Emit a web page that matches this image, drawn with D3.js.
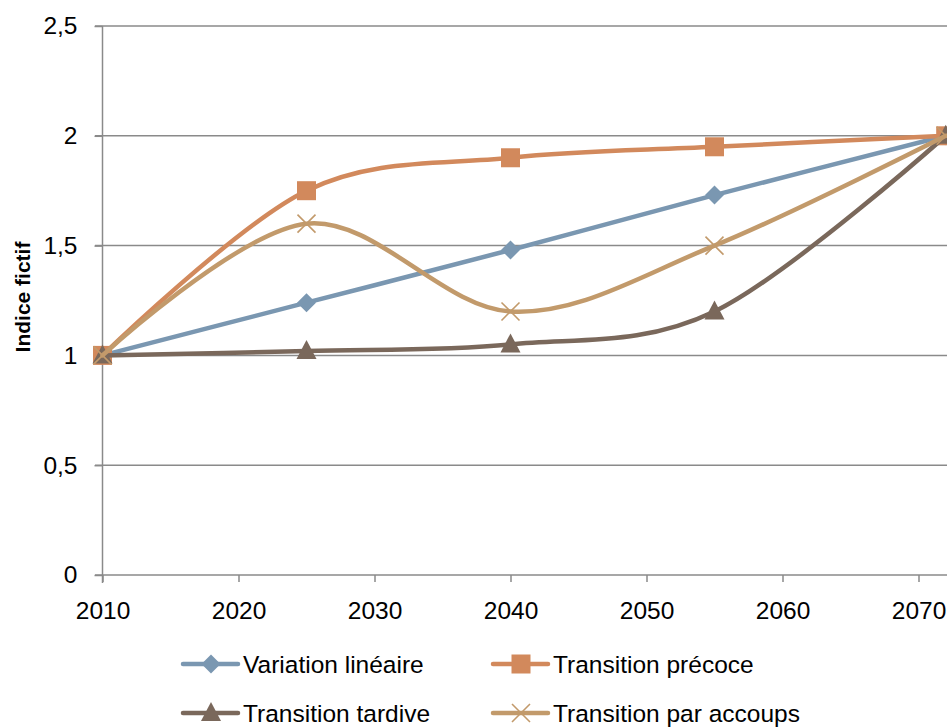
<!DOCTYPE html>
<html>
<head>
<meta charset="utf-8">
<script src="https://cdn.jsdelivr.net/npm/d3@7"></script>
<style>
  html, body { margin: 0; padding: 0; background: #fff; overflow: hidden; }
  svg { display: block; font-family: "Liberation Sans", Arial, sans-serif; }
</style>
</head>
<body>
<div id="chart"></div>
<script>
// ---- data ----
const years = [2010, 2025, 2040, 2055, 2072];
const seriesNames = ["Variation linéaire", "Transition précoce", "Transition tardive", "Transition par accoups"];
const lineaire = [1, 1.24, 1.48, 1.73, 2];
const precoce  = [1, 1.75, 1.90, 1.95, 2];
const tardive  = [1, 1.02, 1.05, 1.20, 2];
const accoups  = [1, 1.60, 1.20, 1.50, 2];
const xTicks = [2010, 2020, 2030, 2040, 2050, 2060, 2070];
const yTicks = [0, 0.5, 1, 1.5, 2, 2.5];
const yTitle = "Indice fictif";

const W = 947, H = 727;
const colors = ["#7A97B1", "#D2895C", "#7A685B", "#C29A6B"];
const markers = ["diamond", "square", "triangle", "x"];
const values = [lineaire, precoce, tardive, accoups];

const svg = d3.select("#chart").append("svg").attr("width", W).attr("height", H);

const x = d3.scaleLinear().domain([2010, 2070]).range([102.5, 918.5]);
const y = d3.scaleLinear().domain([0, 2.5]).range([575, 26]);
const fmt = d => String(d).replace(".", ",");
const gridColor = "#8A8A8A";

// gridlines
svg.append("g").selectAll("line").data(yTicks.filter(d => d > 0)).join("line")
  .attr("x1", 95).attr("x2", W).attr("y1", d => y(d)).attr("y2", d => y(d))
  .attr("stroke", gridColor).attr("stroke-width", 1.5);

// y axis
const yAxis = svg.append("g").attr("transform", `translate(${x(2010)},0)`)
  .call(d3.axisLeft(y).tickValues(yTicks).tickFormat(fmt).tickSize(8).tickPadding(17));
yAxis.select(".domain").remove();
yAxis.append("line").attr("x1", 0).attr("x2", 0).attr("y1", y(2.5)).attr("y2", 583)
  .attr("stroke", gridColor).attr("stroke-width", 1.5);
yAxis.selectAll(".tick line").attr("stroke", gridColor).attr("stroke-width", 1.5);
yAxis.selectAll(".tick text").attr("font-size", 24.5).attr("fill", "#000")
  .attr("font-family", "Liberation Sans, Arial, sans-serif");

// x axis
const xAxis = svg.append("g").attr("transform", `translate(0,${y(0)})`)
  .call(d3.axisBottom(x).tickValues(xTicks).tickFormat(d3.format("d")).tickSize(7).tickPadding(20));
xAxis.select(".domain").remove();
xAxis.append("line").attr("x1", 95).attr("x2", W).attr("y1", 0).attr("y2", 0)
  .attr("stroke", gridColor).attr("stroke-width", 1.5);
xAxis.selectAll(".tick line").attr("stroke", gridColor).attr("stroke-width", 1.5);
xAxis.selectAll(".tick text").attr("font-size", 24.5).attr("fill", "#000")
  .attr("font-family", "Liberation Sans, Arial, sans-serif");

// y title
svg.append("text").attr("transform", `translate(30,297) rotate(-90)`)
  .attr("text-anchor", "middle").attr("font-weight", "bold").attr("font-size", 21)
  .attr("fill", "#000").text(yTitle);

function drawMarker(g, type, cx, cy, color) {
  if (type === "diamond") {
    g.append("path").attr("d", `M${cx},${cy-9.5}L${cx+9.5},${cy}L${cx},${cy+9.5}L${cx-9.5},${cy}Z`)
      .attr("fill", color);
  } else if (type === "square") {
    g.append("rect").attr("x", cx-9.5).attr("y", cy-9.5).attr("width", 19).attr("height", 19)
      .attr("fill", color);
  } else if (type === "triangle") {
    g.append("path").attr("d", `M${cx},${cy-11}L${cx+10},${cy+8}L${cx-10},${cy+8}Z`)
      .attr("fill", color);
  } else {
    g.append("path").attr("d", `M${cx-9},${cy-9}L${cx+9},${cy+9}M${cx+9},${cy-9}L${cx-9},${cy+9}`)
      .attr("stroke", color).attr("stroke-width", 1.6).attr("fill", "none");
  }
}

const line = d3.line().x(d => x(d[0])).y(d => y(d[1])).curve(d3.curveCardinal.tension(0));

values.forEach((vals, i) => {
  const g = svg.append("g");
  const pts = years.map((yr, k) => [yr, vals[k]]);
  g.append("path").datum(pts).attr("d", line).attr("fill", "none")
    .attr("stroke", colors[i]).attr("stroke-width", 4.5).attr("stroke-linejoin", "round")
    .attr("stroke-linecap", "round");
  pts.forEach(p => drawMarker(g, markers[i], x(p[0]), y(p[1]), colors[i]));
});

// legend
const legPos = [[183, 664], [493, 664], [183, 713], [493, 713]];
seriesNames.forEach((name, i) => {
  const [lx, ly] = legPos[i];
  const g = svg.append("g");
  g.append("line").attr("x1", lx).attr("x2", lx + 55).attr("y1", ly).attr("y2", ly)
    .attr("stroke", colors[i]).attr("stroke-width", 4.5).attr("stroke-linecap", "round");
  drawMarker(g, markers[i], lx + 28, ly, colors[i]);
  g.append("text").attr("x", lx + 60).attr("y", ly + 8.5).attr("font-size", 24.5)
    .attr("fill", "#000").text(name);
});
</script>
</body>
</html>
